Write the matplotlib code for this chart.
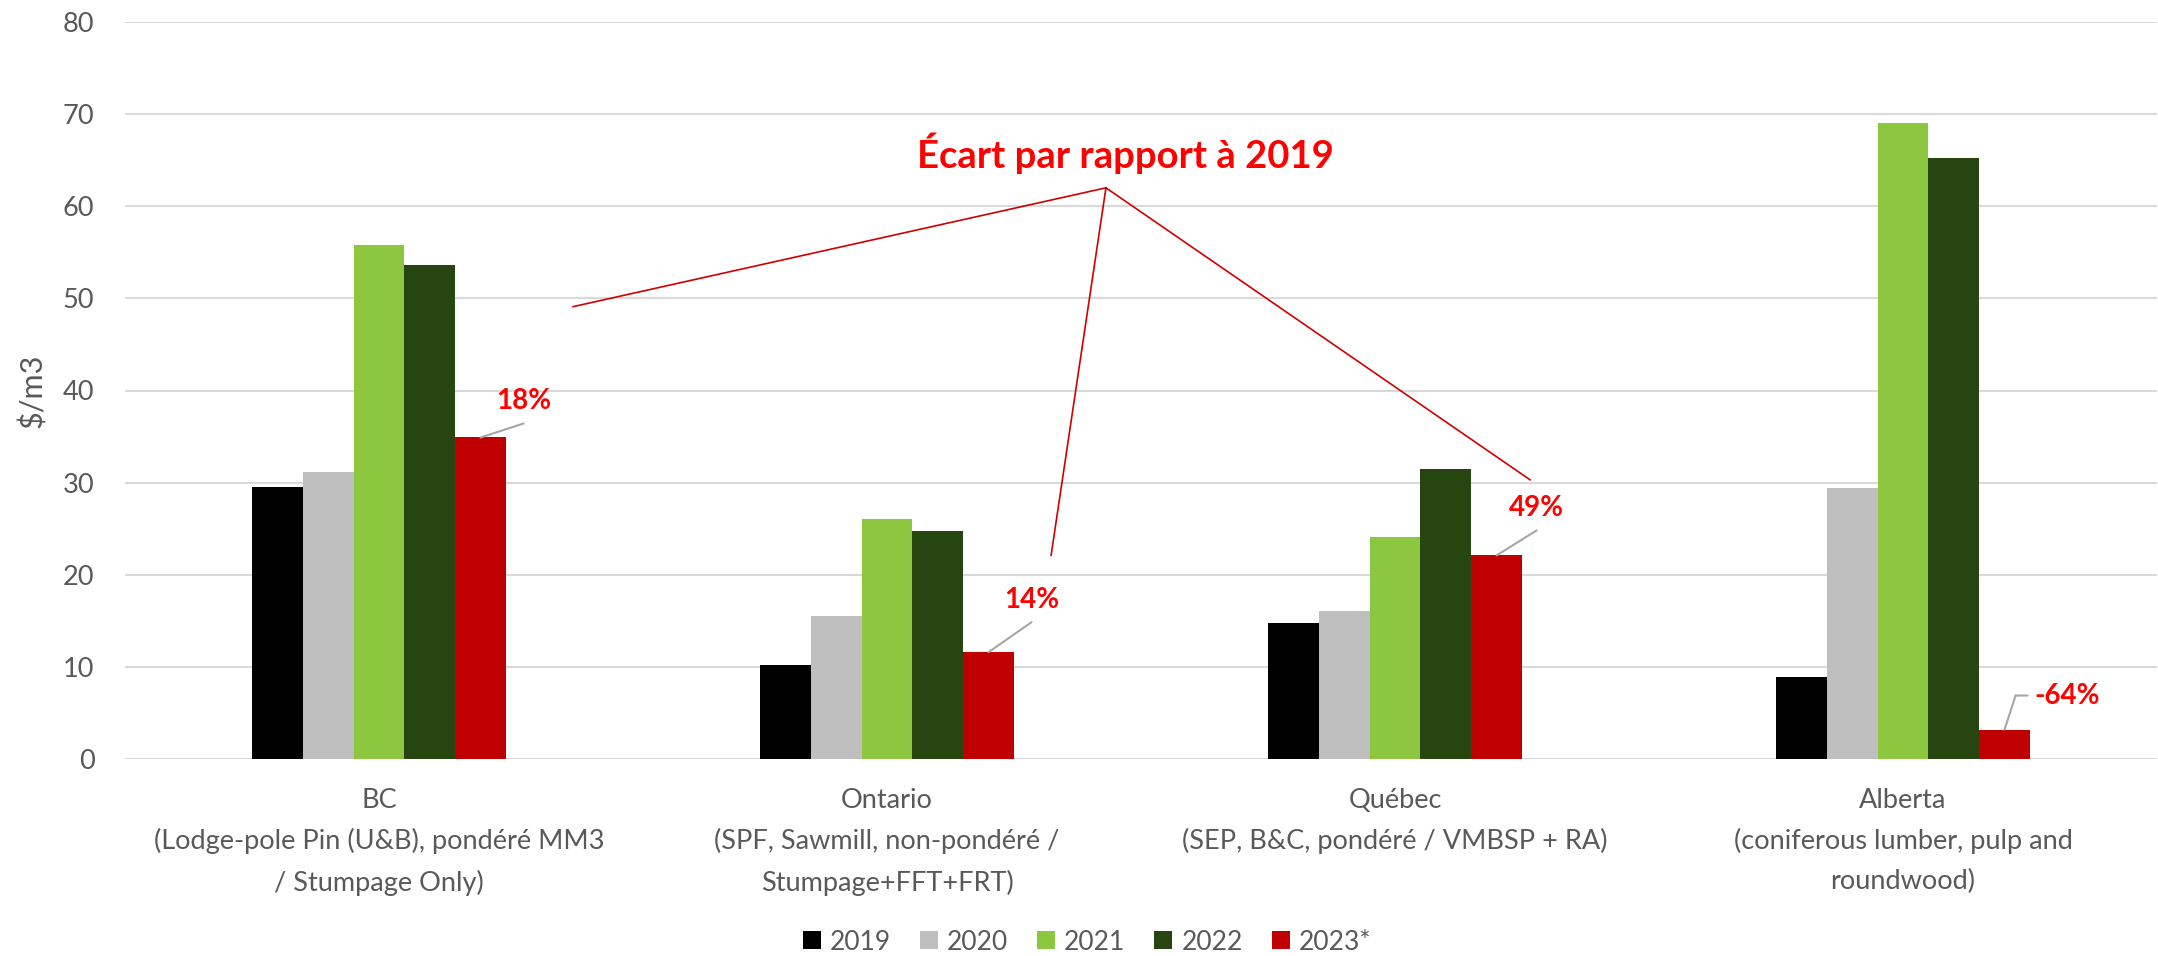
import matplotlib
matplotlib.use("Agg")
import matplotlib.pyplot as plt
from matplotlib.transforms import offset_copy
import numpy as np

# ---- data ----
categories = [
    "BC\n(Lodge-pole Pin (U&B), pondéré MM3\n/ Stumpage Only)",
    "Ontario\n(SPF, Sawmill, non-pondéré /\nStumpage+FFT+FRT)",
    "Québec\n(SEP, B&C, pondéré / VMBSP + RA)",
    "Alberta\n(coniferous lumber, pulp and\nroundwood)",
]
series_names = ["2019", "2020", "2021", "2022", "2023*"]
v2019 = [29.5, 10.2, 14.8, 8.9]
v2020 = [31.2, 15.5, 16.1, 29.4]
v2021 = [55.8, 26.0, 24.1, 69.0]
v2022 = [53.6, 24.8, 31.5, 65.2]
v2023 = [34.9, 11.6, 22.1, 3.2]
change_labels = ["18%", "14%", "49%", "-64%"]
title_text = "Écart par rapport à 2019"
yticks = [0, 10, 20, 30, 40, 50, 60, 70, 80]

colors = ["#000000", "#BFBFBF", "#8DC63F", "#264511", "#C00000"]
grey = "#595959"
FONT = ["Lato", "DejaVu Sans"]
plt.rcParams["font.family"] = FONT

W, H = 2158, 956
fig = plt.figure(figsize=(W / 100, H / 100), dpi=100)
ax = fig.add_axes([125 / W, 1 - 759 / H, (2157 - 125) / W, (759 - 22) / H])

x = np.arange(len(categories))
bw = 0.1
all_vals = [v2019, v2020, v2021, v2022, v2023]
for i, (vals, name, c) in enumerate(zip(all_vals, series_names, colors)):
    ax.bar(x + (i - 2) * bw, vals, width=bw, color=c, label=name, zorder=3)

ax.set_xlim(-0.5, 3.5)
ax.set_ylim(0, 80)
ax.set_yticks(yticks)
ax.set_yticklabels([str(t) for t in yticks])
ax.set_xticks(x)
ax.set_xticklabels(categories, linespacing=1.72)
ax.tick_params(axis="both", length=0, labelsize=19.5, labelcolor=grey)
ax.tick_params(axis="y", pad=22)
ax.tick_params(axis="x", pad=21)
ax.grid(axis="y", color="#D9D9D9", linewidth=1.5, zorder=0)
for s in ax.spines.values():
    s.set_visible(False)

fig.text(32 / W, 1 - 391 / H, "$/m3", rotation=90, ha="center", va="center",
         fontsize=22, color=grey)

# ---- data labels with leader lines (offsets in pixels, image y down) ----
label_off = [(43, -36), (43, -52), (40, -47), (63, -34)]
leader_off = [(43, -14), (43, -30), (40, -25), None]
xr = x + 2 * bw
for k in range(len(categories)):
    xb, yb = xr[k], v2023[k]
    lx, ly = label_off[k]
    ax.annotate(change_labels[k], xy=(xb, yb), xytext=(lx, -ly),
                textcoords="offset pixels", ha="center", va="center",
                fontsize=20, fontweight="bold", color="#FF0000", zorder=5)
    if leader_off[k] is not None:
        ex, ey = leader_off[k]
        ax.annotate("", xy=(xb, yb), xytext=(ex, -ey), textcoords="offset pixels",
                    arrowprops=dict(arrowstyle="-", color="#A6A6A6", lw=1.5,
                                    shrinkA=0, shrinkB=0), zorder=4)
    else:
        ax.annotate("", xy=(xb, yb), xytext=(11, 34), textcoords="offset pixels",
                    arrowprops=dict(arrowstyle="-", color="#A6A6A6", lw=1.5,
                                    shrinkA=0, shrinkB=0), zorder=4)
        tr = offset_copy(ax.transData, fig=fig, x=11, y=34, units="dots")
        ax.annotate("", xy=(xb, yb), xycoords=tr, xytext=(12, 0),
                    textcoords="offset pixels",
                    arrowprops=dict(arrowstyle="-", color="#A6A6A6", lw=1.5,
                                    shrinkA=0, shrinkB=0), zorder=4)

# ---- title annotation with red lines ----
anchor = (1.431, 62.0)
targets = [(0.382, 49.1), (1.323, 22.1), (2.266, 30.3)]
for tx, ty in targets:
    ax.plot([anchor[0], tx], [anchor[1], ty], color="#D00000", lw=1.2, zorder=4)
ax.text(1.469, 64.2, title_text, ha="center", va="baseline", fontsize=27.5,
        fontweight="bold", color="#FF0000", zorder=5)

# ---- legend ----
fig.legend(loc="center", bbox_to_anchor=(1087 / W, 1 - 942 / H), ncol=5,
           frameon=False, fontsize=19, labelcolor=grey, handlelength=0.68,
           handleheight=0.68, handletextpad=0.34, columnspacing=1.1,
           borderpad=0, borderaxespad=0)

fig.savefig("out.png", dpi=100)
